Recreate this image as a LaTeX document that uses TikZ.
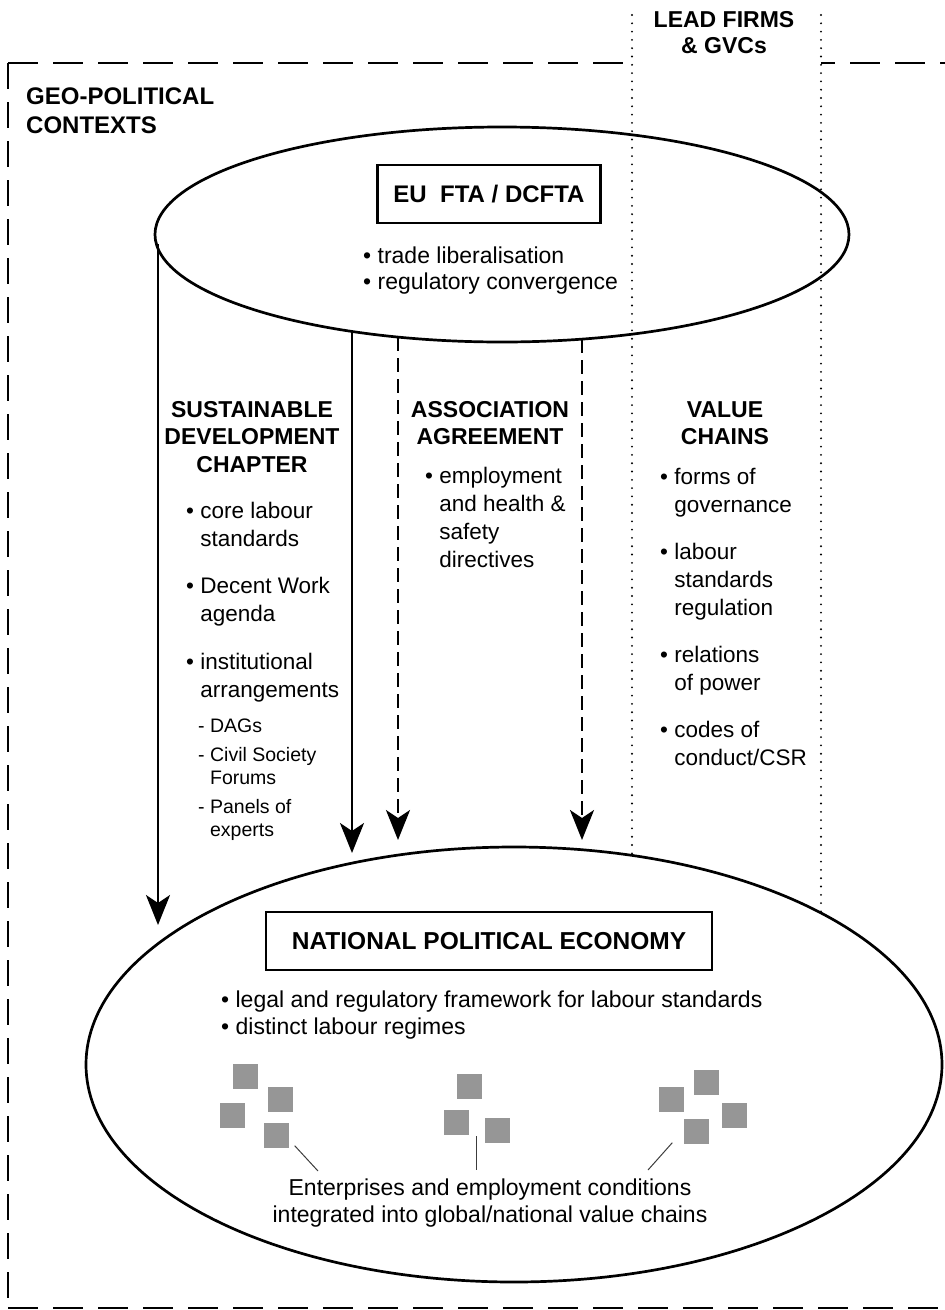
\documentclass[tikz,border=0pt]{standalone}
\usepackage{fontspec}
\setmainfont{Liberation Sans}
\usetikzlibrary{arrows.meta,shapes.geometric}
\definecolor{firmgrey}{RGB}{150,150,150}
\definecolor{leadergrey}{RGB}{60,60,60}

% multi-line text nodes are anchored at the baseline of their last line
\begin{document}
\begin{tikzpicture}[x=1pt,y=-1pt,
  body/.style={anchor=base west, inner sep=0pt, align=left,
    font=\fontsize{22.5}{28}\selectfont},
  subitem/.style={anchor=base west, inner sep=0pt, align=left,
    font=\fontsize{19.5}{23}\selectfont},
  heading/.style={anchor=base, inner sep=0pt, align=center,
    font=\bfseries\fontsize{23}{27.5}\selectfont},
  titlebox/.style={draw, line width=2.8pt, inner sep=0pt,
    minimum height=58pt, font=\bfseries\fontsize{24}{28}\selectfont},
  oval/.style={draw, ellipse, line width=2.7pt, inner sep=0pt},
  firm/.style={fill=firmgrey, minimum size=25pt, inner sep=0pt},
  link/.style={line width=2.6pt, -{Stealth[length=30pt,width=24pt,inset=8pt]}},
  weaklink/.style={link, dash pattern=on 14pt off 7pt},
  leader/.style={line width=1pt, draw=leadergrey},
  frametop/.style={line width=2.6pt, dash pattern=on 30pt off 15pt},
  frameside/.style={line width=2.6pt, dash pattern=on 26pt off 13pt},
  column/.style={line width=2.1pt, line cap=round, dash pattern=on 0pt off 8.3pt}
]
\useasboundingbox (0,0) rectangle (945,1310);

% outer geo-political frame
\draw[frametop] (8,63) -- (632,63);
\draw[frametop, dash phase=16pt] (821,63) -- (945,63);
\draw[frameside] (8,63) -- (8,1310);
\draw[frametop] (8,1308) -- (945,1308);

% lead firms / value chains column
\draw[column] (632,15) -- (632,855);
\draw[column] (821,15) -- (821,912);
\node[heading, font=\bfseries\fontsize{23}{26}\selectfont] (lead) at (724,53) {LEAD FIRMS\\\& GVCs};

\node[anchor=base west, inner sep=0pt, align=left,
  font=\bfseries\fontsize{24}{29}\selectfont] (geo) at (26,133)
  {GEO-POLITICAL\\CONTEXTS};

% trade agreement
\node[oval, minimum width=694pt, minimum height=215pt] (fta) at (502,234.5) {};
\node[titlebox, minimum width=223pt] (ftatitle) at (489,194) {EU\ \ FTA / DCFTA};
\node[anchor=base west, inner sep=0pt, align=left,
  font=\fontsize{23}{26}\selectfont] (ftaitems) at (363,289)
  {\textbullet\ trade liberalisation\\\textbullet\ regulatory convergence};

% national political economy
\node[oval, minimum width=856pt, minimum height=435pt] (npe) at (514,1064.5) {};
\node[titlebox, minimum width=446pt, font=\bfseries\fontsize{24.5}{28}\selectfont]
  (npetitle) at (489,941) {NATIONAL POLITICAL ECONOMY};
\node[anchor=base west, inner sep=0pt, align=left,
  font=\fontsize{23}{27}\selectfont] (npeitems) at (221,1034)
  {\textbullet\ legal and regulatory framework for labour standards\\
   \textbullet\ distinct labour regimes};

% enterprises
\node[firm] (fa) at (245,1076) {};
\node[firm] (fb) at (280,1099) {};
\node[firm] (fc) at (232,1115) {};
\node[firm] (fd) at (276,1135) {};
\node[firm] (fe) at (469,1086) {};
\node[firm] (ff) at (456,1122) {};
\node[firm] (fg) at (497,1130) {};
\node[firm] (fh) at (706,1082) {};
\node[firm] (fi) at (671,1099) {};
\node[firm] (fj) at (734,1115) {};
\node[firm] (fk) at (696,1131) {};
\node[anchor=base, inner sep=0pt, align=center,
  font=\fontsize{23}{27}\selectfont] (firms) at (490,1222)
  {Enterprises and employment conditions\\
   integrated into global/national value chains};
\coordinate (la) at (318,1171);
\coordinate (lb) at (476,1170);
\coordinate (lc) at (648,1170);
\coordinate (lbtop) at (476,1136);
\draw[leader] ([xshift=6pt,yshift=2pt]fd.south east) -- (la);
\draw[leader] (lbtop) -- (lb);
\draw[leader] ([xshift=-11pt,yshift=1pt]fk.south west) -- (lc);

% channels from the agreement down to the national economy
\coordinate (s1) at (158,244);
\coordinate (t1) at (158,925);
\coordinate (s2) at (352,331);
\coordinate (t2) at (352,853);
\coordinate (s3) at (398,337);
\coordinate (t3) at (398,840);
\coordinate (s4) at (582,339);
\coordinate (t4) at (582,840);
\draw[link] (s1) -- (t1);
\draw[link] (s2) -- (t2);
\draw[weaklink] (s3) -- (t3);
\draw[weaklink] (s4) -- (t4);

% sustainable development chapter
\node[heading] (sdc) at (252,472) {SUSTAINABLE\\DEVELOPMENT\\CHAPTER};
\node[body] (sdca) at (186,546) {\textbullet\ core labour\\\hphantom{\textbullet\ }standards};
\node[body] (sdcb) at (186,621) {\textbullet\ Decent Work\\\hphantom{\textbullet\ }agenda};
\node[body] (sdcc) at (186,697) {\textbullet\ institutional\\\hphantom{\textbullet\ }arrangements};
\node[subitem] (sdcd) at (198,732) {- DAGs};
\node[subitem] (sdce) at (198,784) {- Civil Society\\\hphantom{- }Forums};
\node[subitem] (sdcf) at (198,836) {- Panels of\\\hphantom{- }experts};

% association agreement
\node[heading] (aa) at (490,444.5) {ASSOCIATION\\AGREEMENT};
\node[body] (aaa) at (425,567)
  {\textbullet\ employment\\\hphantom{\textbullet\ }and health \&\\\hphantom{\textbullet\ }safety\\\hphantom{\textbullet\ }directives};

% value chains
\node[heading] (vc) at (725,444.5) {VALUE\\CHAINS};
\node[body] (vca) at (660,512) {\textbullet\ forms of\\\hphantom{\textbullet\ }governance};
\node[body] (vcb) at (660,615) {\textbullet\ labour\\\hphantom{\textbullet\ }standards\\\hphantom{\textbullet\ }regulation};
\node[body] (vcc) at (660,690) {\textbullet\ relations\\\hphantom{\textbullet\ }of power};
\node[body] (vcd) at (660,765) {\textbullet\ codes of\\\hphantom{\textbullet\ }conduct/CSR};
\end{tikzpicture}
\end{document}
